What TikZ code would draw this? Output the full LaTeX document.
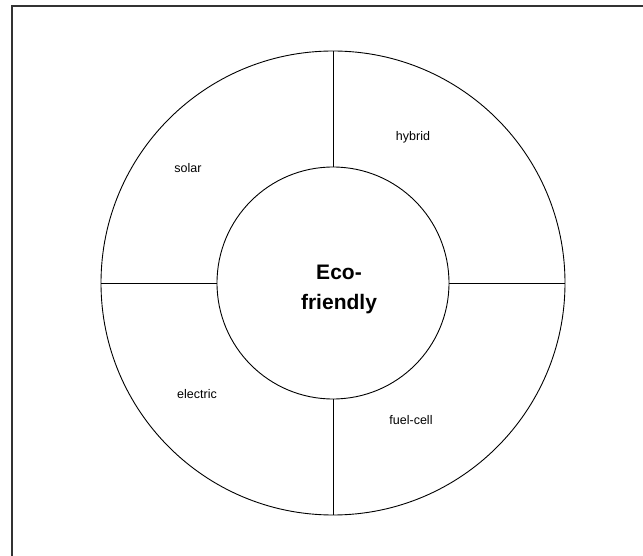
\documentclass[tikz,border=0pt]{standalone}
\usepackage{fontspec}
\setmainfont{Liberation Sans}
\begin{document}
\begin{tikzpicture}[x=1pt,y=-1pt,
  ring/.style={draw=black,line width=0.9pt},
  spoke/.style={draw=black,line width=0.9pt},
  frame/.style={draw=black!80,line width=1.5pt},
  part/.style={font=\fontsize{12.5}{15}\selectfont},
  hub/.style={circle,draw=black,line width=0.9pt,minimum size=232pt,inner sep=0pt},
  hubtext/.style={align=center,font=\fontsize{21}{30}\selectfont\bfseries}]
\useasboundingbox (0,0) rectangle (643,556);
% partial frame along the top and left
\coordinate (fa) at (12,556);
\coordinate (fb) at (12,6);
\coordinate (fc) at (643,6);
\draw[frame] (fa) -- (fb) -- (fc);
% outer ring and hub
\coordinate (c) at (333,283);
\draw[ring] (c) circle[radius=232pt];
\node[hub] (hub) at (c) {};
\node[hubtext] (title) at (339,289) {Eco-\\friendly};
% spokes between hub and ring
\coordinate (ot) at (333,51);
\coordinate (ob) at (333,515);
\coordinate (ol) at (101,283);
\coordinate (or) at (565,283);
\draw[spoke] (hub.north) -- (ot);
\draw[spoke] (hub.south) -- (ob);
\draw[spoke] (hub.west) -- (ol);
\draw[spoke] (hub.east) -- (or);
% segment labels
\node[part] (solar) at (188,168) {solar};
\node[part] (hybrid) at (413,137) {hybrid};
\node[part] (electric) at (197,394) {electric};
\node[part] (fuel) at (411,420) {fuel-cell};
\end{tikzpicture}
\end{document}
